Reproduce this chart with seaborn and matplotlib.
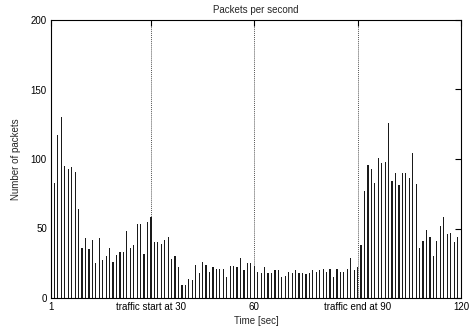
import matplotlib
matplotlib.use("Agg")
import matplotlib.pyplot as plt
import seaborn as sns
import pandas as pd

# seconds 2..119
seconds = list(range(2, 120))
packets = [
    83, 117, 130, 95, 93, 94, 91, 64, 36, 43, 35, 42, 25, 43, 27, 30, 36, 26, 31, 33, 33, 48, 36, 38,
    53, 53, 32, 55, 58, 40, 40, 39, 42, 44, 28, 30, 22, 9, 9, 14, 13, 24, 18, 26, 24, 19, 22,
    21, 21, 21, 15, 23, 23, 22, 29, 20, 25, 25, 23, 19, 18, 22, 18, 18, 20, 20, 15, 16, 19, 18, 20,
    18, 18, 17, 18, 20, 19, 20, 21, 19, 21, 15, 21, 19, 19, 21, 29, 20, 22, 38, 77, 96, 93, 83, 101,
    97, 98, 126, 84, 90, 81, 90, 90, 86, 104, 82, 36, 41, 49, 44, 30, 41, 52, 58, 46, 47, 40, 44,
]
tick_pos = [1, 30, 60, 90, 120]
tick_labels = ["1", "traffic start at 30", "60", "traffic end at 90", "120"]
marker_lines = [30, 60, 90]
y_ticks = [0, 50, 100, 150, 200]

df = pd.DataFrame({"t": seconds, "n": packets})

sns.set_theme(style="white")
plt.rcParams["font.family"] = ["Liberation Sans", "DejaVu Sans"]

fig = plt.figure(figsize=(4.7, 3.31), dpi=100)
ax = fig.add_axes([51 / 470, 1 - 298 / 331, 410 / 470, 278 / 331])

sns.barplot(data=df, x="t", y="n", native_scale=True, width=0.35,
            color="#1a1a1a", errorbar=None, ax=ax, linewidth=0, saturation=1)

for xv in marker_lines:
    ax.axvline(xv, color="#555555", linestyle=(0, (1, 1)), linewidth=0.7, zorder=0)

ax.set_xlim(1, 120)
ax.set_ylim(0, 200)
ax.set_xticks(tick_pos)
ax.set_xticklabels(tick_labels)
ax.set_yticks(y_ticks)
ax.tick_params(direction="in", length=4, width=0.8, top=True, right=True,
               labelsize=7, colors="black", pad=3)
for s in ax.spines.values():
    s.set_color("black")
    s.set_linewidth(0.8)

ax.set_title("Packets per second", fontsize=7, pad=5)
ax.set_xlabel("Time [sec]", fontsize=7, labelpad=3)
ax.set_ylabel("Number of packets", fontsize=7, labelpad=7)

fig.savefig("out.png", dpi=100)
